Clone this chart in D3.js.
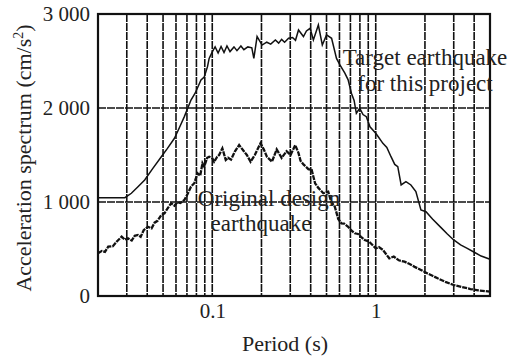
<!DOCTYPE html>
<html>
<head>
<meta charset="utf-8">
<script src="https://cdn.jsdelivr.net/npm/d3@7"></script>
<style>
  body { margin: 0; background: #fff; }
  svg text { font-family: "Liberation Serif", "DejaVu Serif", "Times New Roman", Times, serif; fill: #222; }
</style>
</head>
<body>
<div id="chart"></div>
<script>
// target earthquake for this project (period s, acceleration cm/s2)
const targetPeriod = [0.020, 0.0237, 0.0292, 0.0320, 0.0350, 0.0386, 0.0432, 0.0488, 0.0532, 0.0587,
  0.0629, 0.0675, 0.0741, 0.0787, 0.0853, 0.0893, 0.0935, 0.0957, 0.1002, 0.1041,
  0.1086, 0.1132, 0.1180, 0.1230, 0.1284, 0.1358, 0.1416, 0.1497, 0.1561, 0.1651,
  0.1746, 0.1796, 0.1880, 0.2017, 0.2155, 0.2278, 0.2432, 0.2548, 0.2656, 0.2770,
  0.2930, 0.3098, 0.3230, 0.3370, 0.3612, 0.3768, 0.3968, 0.4155, 0.4456, 0.4712,
  0.5002, 0.5370, 0.5754, 0.6037, 0.6472, 0.6778, 0.710, 0.7373, 0.761, 0.798,
  0.8358, 0.876, 0.922, 1.0, 1.031, 1.106, 1.169, 1.24, 1.307, 1.364,
  1.43, 1.53, 1.641, 1.76, 1.89, 2.03, 2.224, 2.5, 2.742, 3.0,
  3.304, 3.63, 4.056, 4.414, 4.95, 5.0];
const targetAcc = [1046, 1046, 1046, 1093, 1160, 1234, 1355, 1482, 1570, 1678,
  1790, 1908, 2085, 2160, 2298, 2330, 2440, 2528, 2600, 2650,
  2585, 2655, 2590, 2660, 2600, 2650, 2610, 2660, 2620, 2650,
  2640, 2528, 2760, 2670, 2700, 2680, 2724, 2690, 2730, 2700,
  2742, 2750, 2720, 2830, 2760, 2820, 2848, 2724, 2883, 2670,
  2777, 2742, 2528, 2458, 2370, 2300, 2157, 2080, 1944, 1997,
  1930, 1908, 1800, 1731, 1700, 1624, 1580, 1482, 1400, 1376,
  1181, 1216, 1181, 1110, 915, 897, 820, 730, 660, 596,
  543, 507, 460, 425, 394, 390];

// original design earthquake
const originalPeriod = [0.020, 0.02115, 0.02206, 0.0231, 0.02466, 0.02608, 0.0279, 0.0292, 0.0305, 0.03217,
  0.03354, 0.0351, 0.03648, 0.03805, 0.0404, 0.04256, 0.04437, 0.04627, 0.0488, 0.05102,
  0.0532, 0.056, 0.0587, 0.0612, 0.0638, 0.0675, 0.0704, 0.0741, 0.0776, 0.0813,
  0.0844, 0.0871, 0.0893, 0.0931, 0.0957, 0.1002, 0.1026, 0.1071, 0.1101, 0.1153,
  0.1209, 0.1249, 0.1302, 0.1377, 0.146, 0.1561, 0.1628, 0.1715, 0.1821, 0.1972,
  0.2065, 0.2162, 0.2319, 0.2478, 0.2656, 0.2848, 0.3013, 0.3218, 0.337, 0.3466,
  0.3612, 0.3716, 0.3874, 0.4058, 0.4256, 0.4456, 0.4778, 0.512, 0.5346, 0.562,
  0.5894, 0.617, 0.6412, 0.678, 0.7066, 0.744, 0.7794, 0.8126, 0.856, 0.9092,
  1.0, 1.045, 1.106, 1.21, 1.289, 1.383, 1.5, 1.612, 1.73, 1.89,
  2.074, 2.224, 2.39, 2.668, 3.0, 3.382, 3.8, 4.232, 5.0];
const originalAcc = [454, 480, 470, 525, 530, 580, 631, 600, 614, 590,
  640, 649, 630, 700, 737, 720, 780, 800, 862, 880,
  930, 986, 960, 1000, 990, 1021, 1080, 1163, 1200, 1305,
  1280, 1412, 1376, 1470, 1482, 1465, 1429, 1480, 1500, 1571,
  1447, 1470, 1450, 1540, 1606, 1540, 1500, 1429, 1500, 1624,
  1560, 1480, 1429, 1560, 1470, 1540, 1500, 1606, 1520, 1440,
  1400, 1380, 1350, 1340, 1199, 1150, 1093, 1110, 1000, 950,
  820, 773, 770, 737, 700, 667, 660, 630, 596, 580,
  507, 520, 490, 401, 420, 380, 365, 340, 310, 277,
  240, 215, 188, 150, 117, 95, 74, 60, 46];

const xTickValues = [0.1, 1];
const yTickValues = [0, 1000, 2000, 3000];
const xGridValues = [0.03, 0.04, 0.05, 0.06, 0.07, 0.08, 0.09, 0.1,
  0.2, 0.3, 0.4, 0.5, 0.6, 0.7, 0.8, 0.9, 1, 2, 3, 4];
const yGridValues = [1000, 2000];

const W = 513, H = 358;
const margin = { top: 14, right: 23, bottom: 62, left: 98 };
const width = W - margin.left - margin.right;
const height = H - margin.top - margin.bottom;
const serif = '"Liberation Serif", "DejaVu Serif", "Times New Roman", serif';

const svg = d3.select('#chart').append('svg')
  .attr('width', W)
  .attr('height', H);

const g = svg.append('g')
  .attr('transform', `translate(${margin.left}, ${margin.top})`);

const x = d3.scaleLog().domain([0.02, 5]).range([0, width]);
const y = d3.scaleLinear().domain([0, 3000]).range([height, 0]);

// grid
g.append('g').selectAll('line')
  .data(xGridValues)
  .enter().append('line')
  .attr('x1', d => x(d)).attr('x2', d => x(d))
  .attr('y1', 0).attr('y2', height)
  .attr('stroke', '#111')
  .attr('stroke-width', 1.6)
  .attr('stroke-dasharray', '8,1');

g.append('g').selectAll('line')
  .data(yGridValues)
  .enter().append('line')
  .attr('x1', 0).attr('x2', width)
  .attr('y1', d => y(d)).attr('y2', d => y(d))
  .attr('stroke', '#111')
  .attr('stroke-width', 1.6)
  .attr('stroke-dasharray', '8,1');

// curves
const line = d3.line()
  .x(d => x(d[0]))
  .y(d => y(d[1]));

g.append('path')
  .datum(originalPeriod.map((p, i) => [p, originalAcc[i]]))
  .attr('fill', 'none')
  .attr('stroke', '#111')
  .attr('stroke-width', 2.3)
  .attr('stroke-dasharray', '5,1')
  .attr('d', line);

g.append('path')
  .datum(targetPeriod.map((p, i) => [p, targetAcc[i]]))
  .attr('fill', 'none')
  .attr('stroke', '#111')
  .attr('stroke-width', 1.5)
  .attr('d', line);

// frame
g.append('rect')
  .attr('width', width).attr('height', height)
  .attr('fill', 'none')
  .attr('stroke', '#111')
  .attr('stroke-width', 2.2);

// axes
const xAxis = g.append('g')
  .attr('transform', `translate(0, ${height})`)
  .call(d3.axisBottom(x).tickValues(xTickValues).tickSize(0).tickPadding(7).tickFormat(d3.format('')));
const yAxis = g.append('g')
  .call(d3.axisLeft(y).tickValues(yTickValues).tickSize(0).tickPadding(8).tickFormat(d => d3.format(',')(d).replace(',', ' ')));
[xAxis, yAxis].forEach(a => {
  a.attr('font-family', serif);
  a.select('.domain').remove();
  a.selectAll('text').attr('font-size', 21).attr('fill', '#222');
});

// titles
svg.append('text')
  .attr('x', margin.left + width / 2 - 9)
  .attr('y', 351)
  .attr('text-anchor', 'middle')
  .attr('font-family', serif)
  .attr('font-size', 22)
  .text('Period (s)');

const yTitle = svg.append('text')
  .attr('transform', `translate(31, ${margin.top + height / 2 + 3}) rotate(-90)`)
  .attr('text-anchor', 'middle')
  .attr('font-family', serif)
  .attr('font-size', 22);
yTitle.append('tspan').text('Acceleration spectrum (cm/s');
yTitle.append('tspan').attr('font-size', 14).attr('dy', -8).text('2');
yTitle.append('tspan').attr('dy', 8).text(')');

// annotations
const notes = [
  { text: 'Target earthquake', x: 425, y: 65 },
  { text: 'for this project', x: 425, y: 91 },
  { text: 'Original design', x: 269, y: 206 },
  { text: 'earthquake', x: 261, y: 231 }
];
svg.append('g').selectAll('text')
  .data(notes)
  .enter().append('text')
  .attr('x', d => d.x).attr('y', d => d.y)
  .attr('text-anchor', 'middle')
  .attr('font-family', serif)
  .attr('font-size', 23)
  .text(d => d.text);
</script>
</body>
</html>
